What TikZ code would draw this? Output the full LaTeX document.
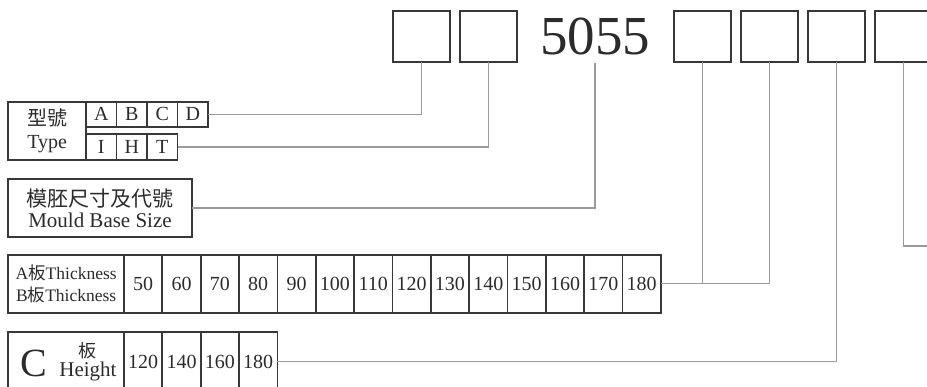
\documentclass[tikz,border=0pt]{standalone}
\usepackage{fontspec}
\setmainfont{Liberation Serif}
\newfontfamily\hanzi{Noto Sans CJK TC}
\usetikzlibrary{positioning}

\definecolor{ink}{HTML}{2B2B2B}
\definecolor{boxline}{HTML}{383838}
\definecolor{wiregray}{HTML}{9A9A9A}

\tikzset{
  slot/.style={draw=boxline, line width=2pt, minimum width=57.3pt, minimum height=50.3pt, inner sep=0pt, outer sep=0pt},
  cell/.style={draw=boxline, line width=1.8pt, minimum width=38.35pt, minimum height=57.7pt, inner sep=0pt, outer sep=0pt},
  tcell/.style={draw=boxline, line width=1.8pt, minimum width=30.5pt, minimum height=25pt, inner sep=0pt, outer sep=0pt},
  lab/.style={draw=boxline, line width=1.8pt, inner sep=0pt, outer sep=0pt, align=center},
  wire/.style={draw=wiregray, line width=1.2pt},
}

\begin{document}
\begin{tikzpicture}[x=1pt, y=-1pt, text=ink, font=\fontsize{20}{23}\selectfont]
  \useasboundingbox (0,0) rectangle (927,387);

  % Code slots
  \node[slot, anchor=north west] (s1) at (392.5,11.5) {};
  \node[slot, right=9.7pt of s1] (s2) {};
  \node[anchor=north, minimum height=52pt, inner sep=0pt, font=\fontsize{55}{55}\selectfont] (num) at (595,10.5) {5055};
  \node[slot, anchor=north west] (s3) at (674,11.5) {};
  \node[slot, right=9.7pt of s3] (s4) {};
  \node[slot, right=9.7pt of s4] (s5) {};
  \node[slot, right=9.7pt of s5] (s6) {};

  % Type
  \node[lab, minimum width=77.7pt, minimum height=58.3pt, anchor=north west] (type) at (8.3,101.7) {{\hanzi 型號}\\Type};
  \node[tcell, anchor=north west] (ta) at (type.north east) {A};
  \node[tcell, right=0pt of ta] (tb) {B};
  \node[tcell, right=0pt of tb] (tc) {C};
  \node[tcell, right=0pt of tc] (td) {D};
  \node[tcell, minimum height=26pt, anchor=south west] (ti) at (type.south east) {I};
  \node[tcell, minimum height=26pt, right=0pt of ti] (th) {H};
  \node[tcell, minimum height=26pt, right=0pt of th] (tt) {T};

  % Mould base size
  \node[lab, minimum width=183.4pt, minimum height=57.4pt, anchor=north west, font=\fontsize{21}{21}\selectfont] (mould) at (8.3,179.3) {{\hanzi 模胚尺寸及代號}\\Mould Base Size};

  % A/B plate thickness
  \node[lab, minimum width=115.7pt, minimum height=57.7pt, anchor=north west, font=\fontsize{17.5}{22}\selectfont] (thk) at (8.3,255) {A{\hanzi 板}Thickness\\B{\hanzi 板}Thickness};
  \node[cell, right=0pt of thk] (t50) {50};
  \node[cell, right=0pt of t50] (t60) {60};
  \node[cell, right=0pt of t60] (t70) {70};
  \node[cell, right=0pt of t70] (t80) {80};
  \node[cell, right=0pt of t80] (t90) {90};
  \node[cell, right=0pt of t90] (t100) {100};
  \node[cell, right=0pt of t100] (t110) {110};
  \node[cell, right=0pt of t110] (t120) {120};
  \node[cell, right=0pt of t120] (t130) {130};
  \node[cell, right=0pt of t130] (t140) {140};
  \node[cell, right=0pt of t140] (t150) {150};
  \node[cell, right=0pt of t150] (t160) {160};
  \node[cell, right=0pt of t160] (t170) {170};
  \node[cell, right=0pt of t170] (t180) {180};

  % C plate height
  \node[lab, minimum width=115.7pt, minimum height=60pt, anchor=north west] (hgt) at (8.3,331.7) {};
  \node[anchor=west, inner sep=0pt, font=\fontsize{40}{40}\selectfont] (bigc) at ([xshift=11.5pt, yshift=-2pt]hgt.west) {C};
  \node[align=center, inner sep=0pt, font=\fontsize{21}{19}\selectfont] (hgtxt) at (88,362) {{\hanzi\fontsize{18}{19}\selectfont 板}\\Height};
  \node[cell, minimum height=60pt, right=0pt of hgt] (h120) {120};
  \node[cell, minimum height=60pt, right=0pt of h120] (h140) {140};
  \node[cell, minimum height=60pt, right=0pt of h140] (h160) {160};
  \node[cell, minimum height=60pt, right=0pt of h160] (h180) {180};

  \coordinate (edge) at (930,246);

  % Connect the boxes
  \draw[wire] (td.east) -| (s1.south);
  \draw[wire] (tt.east) -| (s2.south);
  \draw[wire] (mould.east) -| (num.south);
  \draw[wire] (t180.east) -| (s4.south);
  \draw[wire] (t180.east -| s3.south) -- (s3.south);
  \draw[wire] (h180.east) -| (s5.south);
  \draw[wire] (s6.south) |- (edge);
\end{tikzpicture}
\end{document}
